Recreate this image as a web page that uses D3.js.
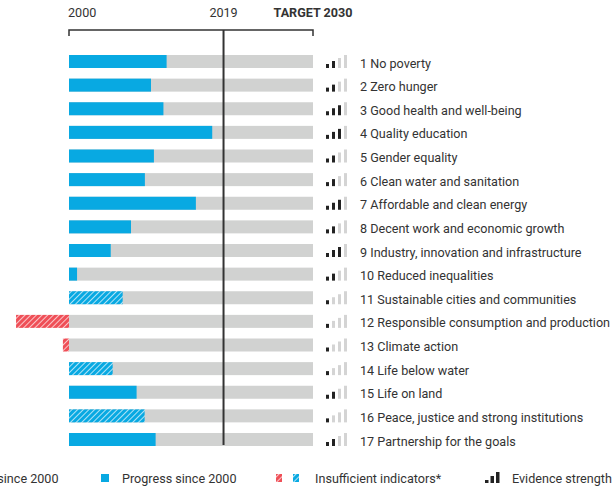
<!DOCTYPE html>
<html>
<head>
<meta charset="utf-8">
<script src="https://cdn.jsdelivr.net/npm/d3@7"></script>
<style>
  body { margin: 0; background: #fff; }
  text { font-family: Roboto, "Noto Sans", sans-serif; }
</style>
</head>
<body>
<div id="chart"></div>
<script>
// goals, progress since 2000 (% of the way to the 2030 target), evidence strength (1-4)
const goals = [
  "1 No poverty", "2 Zero hunger", "3 Good health and well-being", "4 Quality education",
  "5 Gender equality", "6 Clean water and sanitation", "7 Affordable and clean energy",
  "8 Decent work and economic growth", "9 Industry, innovation and infrastructure",
  "10 Reduced inequalities", "11 Sustainable cities and communities",
  "12 Responsible consumption and production", "13 Climate action", "14 Life below water",
  "15 Life on land", "16 Peace, justice and strong institutions", "17 Partnership for the goals"
]
const progress = [40, 33.6, 38.7, 58.7, 34.8, 31.1, 52, 25.4, 17.1, 3.3, 22, -21.7, -2.5, 17.9, 27.7, 31, 35.5]
const insufficient = [false, false, false, false, false, false, false, false, false, false, true, true, true, true, false, true, false]
const evidence = [2, 2, 3, 3, 2, 2, 3, 2, 3, 2, 1, 1, 1, 1, 2, 1, 2]

const years = [2000, 2019, 2030]
const yearLabels = ["2000", "2019", "TARGET 2030"]

const width = 613
const height = 488

const blue = "#08a9e2"
const red = "#ef4f57"
const grey = "#d1d2d1"
const ink = "#333"

const svg = d3.select("#chart")
  .append("svg")
    .attr("width", width)
    .attr("height", height)

// hatch patterns for insufficient indicators
const defs = svg.append("defs")
function hatch(id, color) {
  const p = defs.append("pattern")
    .attr("id", id)
    .attr("patternUnits", "userSpaceOnUse")
    .attr("width", 4)
    .attr("height", 4)
    .attr("patternTransform", "rotate(45)")
  p.append("rect").attr("width", 4).attr("height", 4).attr("fill", color)
  p.append("line")
    .attr("x1", 0).attr("y1", 0).attr("x2", 0).attr("y2", 4)
    .attr("stroke", "#fff").attr("stroke-width", 1.6).attr("stroke-opacity", 0.85)
}
hatch("hatch-blue", blue)
hatch("hatch-red", red)

// scales
const x = d3.scaleLinear().domain([0, 100]).range([69, 313])
const xYear = d3.scaleLinear().domain([2000, 2030]).range([69, 313])
const y = d3.scalePoint().domain(goals).range([61.5, 439.5])
const barH = 13

// header labels
svg.append("g")
  .selectAll("text")
  .data(years)
  .join("text")
    .attr("x", d => xYear(d))
    .attr("y", 16.5)
    .attr("text-anchor", (d, i) => i == 0 ? "start" : "middle")
    .attr("dx", (d, i) => i == 0 ? -1 : 0)
    .style("font-size", "12.6px")
    .style("font-weight", (d, i) => i == 2 ? "bold" : "normal")
    .attr("fill", ink)
    .text((d, i) => yearLabels[i])

// bracket
svg.append("path")
  .attr("d", `M${xYear(2000)},36V30H${xYear(2030)}V36`)
  .attr("fill", "none")
  .attr("stroke", ink)
  .attr("stroke-width", 1.5)

// background bars
svg.append("g")
  .selectAll("rect")
  .data(goals)
  .join("rect")
    .attr("x", x(0))
    .attr("y", d => y(d) - barH / 2)
    .attr("width", x(100) - x(0))
    .attr("height", barH)
    .attr("fill", grey)

// progress bars
svg.append("g")
  .selectAll("rect")
  .data(goals)
  .join("rect")
    .attr("x", (d, i) => x(Math.min(0, progress[i])))
    .attr("y", d => y(d) - barH / 2)
    .attr("width", (d, i) => Math.abs(x(progress[i]) - x(0)))
    .attr("height", barH)
    .attr("fill", (d, i) => {
      const neg = progress[i] < 0
      if (insufficient[i]) return neg ? "url(#hatch-red)" : "url(#hatch-blue)"
      return neg ? red : blue
    })

// 2019 line
svg.append("line")
  .attr("x1", xYear(2019)).attr("x2", xYear(2019))
  .attr("y1", 30).attr("y2", 445)
  .attr("stroke", ink)
  .attr("stroke-width", 2)

// evidence strength icons
const iconX = [326, 332, 338, 344]
const iconH = [4, 7, 10, 13]
const icons = svg.append("g")
  .selectAll("g")
  .data(goals)
  .join("g")
    .attr("transform", d => `translate(0,${y(d) + 6.5})`)
icons.selectAll("rect")
  .data((d, i) => iconX.map((ix, k) => ({ ix, h: iconH[k], on: k < evidence[i] })))
  .join("rect")
    .attr("x", d => d.ix)
    .attr("y", d => -d.h)
    .attr("width", 3)
    .attr("height", d => d.h)
    .attr("fill", d => d.on ? "#222" : "#d4d4d4")

// goal labels
svg.append("g")
  .selectAll("text")
  .data(goals)
  .join("text")
    .attr("x", 360)
    .attr("y", d => y(d) + 6)
    .style("font-size", "12.6px")
    .attr("fill", ink)
    .text(d => d)

// legend
const legendY = 478
const legend = svg.append("g")
const legendFont = "12.6px"

legend.append("rect").attr("x", -20).attr("y", legendY - 3.5).attr("width", 7).attr("height", 7).attr("fill", red)
legend.append("text").attr("x", 58.5).attr("y", legendY + 4.5).attr("text-anchor", "end")
  .style("font-size", legendFont).attr("fill", ink).text("Regress since 2000")

legend.append("rect").attr("x", 101).attr("y", legendY - 4).attr("width", 8).attr("height", 8).attr("fill", blue)
legend.append("text").attr("x", 122).attr("y", legendY + 4.5)
  .style("font-size", legendFont).attr("fill", ink).text("Progress since 2000")

legend.append("rect").attr("x", 276).attr("y", legendY - 4).attr("width", 6).attr("height", 8).attr("fill", "url(#hatch-red)")
legend.append("rect").attr("x", 293).attr("y", legendY - 4).attr("width", 6).attr("height", 8).attr("fill", "url(#hatch-blue)")
legend.append("text").attr("x", 315).attr("y", legendY + 4.5)
  .style("font-size", legendFont).attr("fill", ink).text("Insufficient indicators*")

legend.selectAll("rect.ev")
  .data([3, 7, 11])
  .join("rect")
    .attr("class", "ev")
    .attr("x", (d, i) => 485 + i * 5.5)
    .attr("y", d => legendY + 5 - d)
    .attr("width", 3.5)
    .attr("height", d => d)
    .attr("fill", "#222")
legend.append("text").attr("x", 512).attr("y", legendY + 4.5)
  .style("font-size", legendFont).attr("fill", ink).text("Evidence strength")
</script>
</body>
</html>
